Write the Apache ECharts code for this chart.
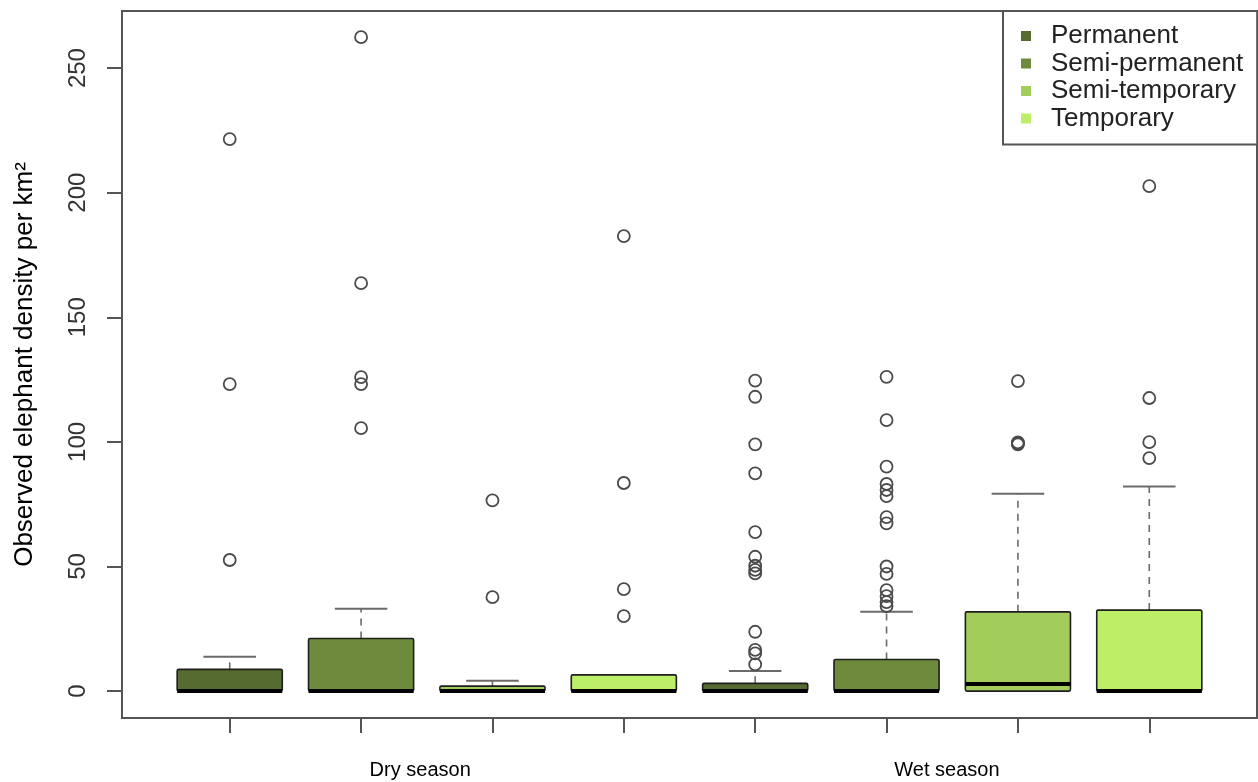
<!DOCTYPE html>
<html>
<head>
<meta charset="utf-8">
<script src="https://cdn.jsdelivr.net/npm/echarts@6/dist/echarts.min.js"></script>
<style>
html,body{margin:0;padding:0;background:#fff;}
#chart{width:1258px;height:782px;}
</style>
</head>
<body>
<div id="chart"></div>
<script>
// ---- data ----
const seasons = ['Dry season', 'Wet season'];
const types = ['Permanent', 'Semi-permanent', 'Semi-temporary', 'Temporary'];
const colors = ['#556B2F', '#6E8B3D', '#A2CD5A', '#BCEE68'];
// box order: Dry(P, SP, ST, T), Wet(P, SP, ST, T)
const lowerWhisker = [0, 0, 0, 0, 0, 0, 0, 0];
const q1 =           [0, 0, 0, 0, 0, 0, 0, 0];
const median =       [0, 0, 0, 0, 0, 0, 2.8, 0];
const q3 =           [8.7, 21.1, 2.0, 6.5, 3.1, 12.7, 31.8, 32.5];
const upperWhisker = [13.8, 33.0, 4.1, 6.5, 8.1, 31.8, 79.2, 82.1];
const outliers = [
  [221.5, 123.2, 52.6],
  [262.4, 163.7, 126.0, 123.2, 105.5],
  [76.5, 37.7],
  [182.6, 83.5, 40.9, 30.1],
  [124.6, 118.1, 99.0, 87.4, 63.8, 53.9, 50.3, 48.6, 47.2, 23.8, 16.5, 15.1, 10.7],
  [126.1, 108.7, 90.1, 83.1, 80.7, 78.2, 69.8, 67.3, 50.0, 47.0, 40.5, 38.1, 35.7, 34.1],
  [124.4, 99.8, 99.4, 99.0],
  [202.6, 117.6, 99.9, 93.5]
];
const yTicks = [0, 50, 100, 150, 200, 250];
const boxPositions = [1, 2, 3, 4, 5, 6, 7, 8];
const seasonLabelPositions = [2.45, 6.46];

// ---- build ----
const FONT = '"Liberation Sans", Arial, Helvetica, sans-serif';

function renderBox(params, api) {
  const x = api.value(0);
  const lw = api.value(1), b1 = api.value(2), md = api.value(3), b3 = api.value(4), uw = api.value(5);
  const band = api.size([1, 0])[0];
  const half = band * 0.4;
  const cap = band * 0.2;
  const pLW = api.coord([x, lw]);
  const pQ1 = api.coord([x, b1]);
  const pMd = api.coord([x, md]);
  const pQ3 = api.coord([x, b3]);
  const pUW = api.coord([x, uw]);
  const cx = pQ1[0];
  const wStyle = {stroke: '#6a6a6a', lineWidth: 1.6, lineDash: [7, 6]};
  const cStyle = {stroke: '#6a6a6a', lineWidth: 2};
  const children = [];
  if (uw > b3) {
    children.push({type: 'line', shape: {x1: cx, y1: pQ3[1], x2: cx, y2: pUW[1]}, style: wStyle});
  }
  children.push({type: 'line', shape: {x1: cx - cap, y1: pUW[1], x2: cx + cap, y2: pUW[1]}, style: cStyle});
  if (lw < b1) {
    children.push({type: 'line', shape: {x1: cx, y1: pQ1[1], x2: cx, y2: pLW[1]}, style: wStyle});
    children.push({type: 'line', shape: {x1: cx - cap, y1: pLW[1], x2: cx + cap, y2: pLW[1]}, style: cStyle});
  }
  children.push({
    type: 'rect',
    shape: {x: cx - half, y: pQ3[1], width: 2 * half, height: pQ1[1] - pQ3[1], r: 1.5},
    style: {fill: api.visual('color'), stroke: '#1e1e1e', lineWidth: 1.6}
  });
  children.push({type: 'line', shape: {x1: cx - half, y1: pMd[1], x2: cx + half, y2: pMd[1]}, style: {stroke: '#000', lineWidth: 4}});
  return {type: 'group', children: children};
}

const series = types.map((t, ti) => {
  const data = seasons.map((s, si) => {
    const i = si * types.length + ti;
    return [boxPositions[i], lowerWhisker[i], q1[i], median[i], q3[i], upperWhisker[i]];
  });
  return {
    name: t,
    type: 'custom',
    renderItem: renderBox,
    itemStyle: {color: colors[ti]},
    encode: {x: 0, y: [1, 2, 3, 4, 5]},
    data: data,
    z: 2
  };
});

const outlierData = [];
outliers.forEach((arr, i) => arr.forEach(v => outlierData.push([boxPositions[i], v])));
series.push({
  name: 'Outliers',
  type: 'scatter',
  symbol: 'circle',
  symbolSize: 12,
  itemStyle: {color: 'rgba(0,0,0,0)', borderColor: '#4a4a4a', borderWidth: 1.8, opacity: 1},
  data: outlierData,
  z: 3
});

const chart = echarts.init(document.getElementById('chart'), null, {renderer: 'canvas'});
chart.setOption({
  animation: false,
  backgroundColor: '#fff',
  grid: {left: 122, top: 11, width: 1135, height: 707, show: true, borderColor: '#555', borderWidth: 2, backgroundColor: 'transparent'},
  legend: {
    data: types,
    orient: 'vertical',
    left: 1003,
    top: 11,
    padding: [12, 14, 13, 18],
    itemWidth: 10,
    itemHeight: 10,
    itemGap: 1.5,
    icon: 'rect',
    selectedMode: false,
    borderColor: '#555',
    borderWidth: 2,
    backgroundColor: '#fff',
    itemStyle: {borderWidth: 0},
    textStyle: {fontFamily: FONT, fontSize: 26, color: '#222', padding: [0, 0, 0, 15]}
  },
  xAxis: {
    type: 'value',
    min: 0.18,
    max: 8.82,
    axisLine: {show: false, onZero: false},
    splitLine: {show: false},
    axisTick: {show: true, customValues: boxPositions, length: 15, lineStyle: {color: '#555', width: 2}},
    axisLabel: {
      customValues: seasonLabelPositions,
      formatter: v => seasons[v < 4.5 ? 0 : 1],
      fontFamily: FONT, fontSize: 20, color: '#000', margin: 42
    }
  },
  yAxis: {
    type: 'value',
    min: -10.8,
    max: 272.9,
    name: 'Observed elephant density per km\u00b2',
    nameLocation: 'middle',
    nameRotate: 90,
    nameGap: 84,
    nameTextStyle: {fontFamily: FONT, fontSize: 26, color: '#000'},
    axisLine: {show: false, onZero: false},
    splitLine: {show: false},
    axisTick: {show: true, customValues: yTicks, length: 15, lineStyle: {color: '#555', width: 2}},
    axisLabel: {customValues: yTicks, rotate: 90, fontFamily: FONT, fontSize: 24, color: '#333', margin: 32}
  },
  series: series
});
</script>
</body>
</html>
